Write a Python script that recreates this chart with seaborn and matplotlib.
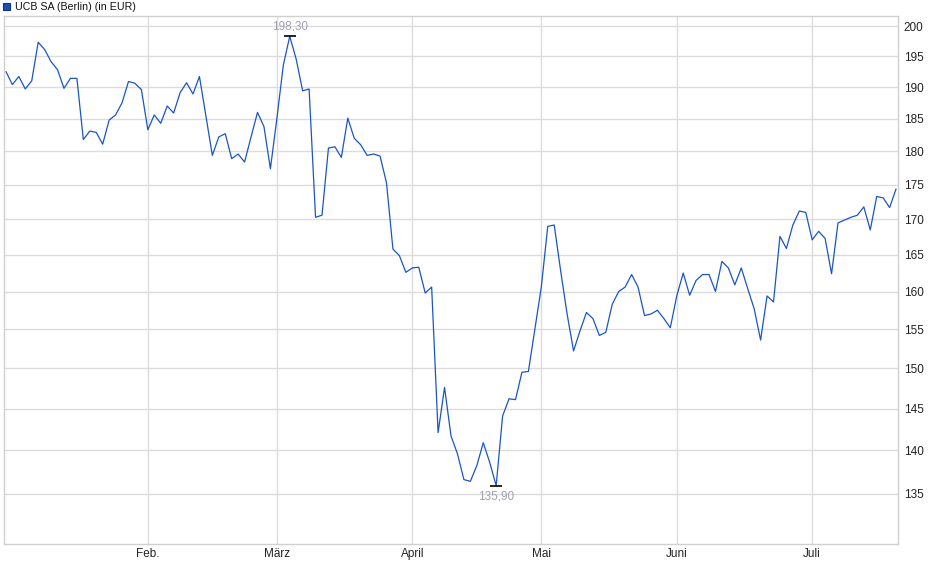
import seaborn as sns
import matplotlib.pyplot as plt
import matplotlib.patches as mpatches
import numpy as np
import pandas as pd

title = 'UCB SA (Berlin) (in EUR)'
month_labels = ['Feb.', 'März', 'April', 'Mai', 'Juni', 'Juli']
# index of the first trading day of each month
month_start = [22, 42, 63, 83, 104, 125]
y_ticks = [135, 140, 145, 150, 155, 160, 165, 170, 175, 180, 185, 190, 195, 200]

# daily closing prices, 2 Jan - 18 Jul
price = [192.5, 190.4, 191.7, 189.7, 191.0, 197.3, 196.1, 194.1, 192.8, 189.8,
         191.4, 191.4, 181.8, 183.1, 182.9, 181.1, 184.8, 185.6, 187.5, 190.9,
         190.6, 189.6, 183.3, 185.6, 184.3, 187.0, 185.9, 189.1, 190.7, 188.9,
         191.7, 185.4, 179.4, 182.2, 182.7, 178.9, 179.6, 178.4, 182.2, 186.0,
         183.8, 177.4, 185.0, 193.5, 198.3, 194.5, 189.4, 189.7, 170.3, 170.6,
         180.5, 180.7, 179.1, 185.1, 182.0, 181.0, 179.4, 179.6, 179.3, 175.3,
         165.8, 164.9, 162.6, 163.2, 163.3, 159.8, 160.6, 142.1, 147.6, 141.7,
         139.6, 136.6, 136.4, 138.2, 140.9, 138.6, 135.9, 144.1, 146.2, 146.1,
         149.5, 149.6, 155.0, 160.6, 169.0, 169.2, 162.8, 157.0, 152.2, 154.8,
         157.2, 156.4, 154.2, 154.6, 158.3, 160.0, 160.6, 162.3, 160.6, 156.8,
         157.0, 157.5, 156.4, 155.2, 159.4, 162.5, 159.5, 161.5, 162.3, 162.3,
         160.0, 164.1, 163.2, 160.9, 163.2, 160.4, 157.7, 153.6, 159.4, 158.6,
         167.6, 165.9, 169.2, 171.2, 171.0, 167.1, 168.3, 167.3, 162.4, 169.5,
         169.9, 170.3, 170.6, 171.8, 168.5, 173.3, 173.1, 171.7, 174.4]

df = pd.DataFrame({'day': np.arange(len(price)), 'price': price})

sns.set_style('white')
plt.rcParams['font.family'] = ['Liberation Sans', 'DejaVu Sans']

W, H = 940, 579
fig = plt.figure(figsize=(W / 100, H / 100), dpi=100)
ax = fig.add_axes([4 / W, 35 / H, 894 / W, 528 / H])

sns.lineplot(data=df, x='day', y='price', color='#1a55c4', linewidth=0.9, ax=ax)

ax.set_yscale('log')
ax.set_ylim(129.4, 201.7)
ax.set_xlim(-0.3, 138.3)
ax.set_yticks(y_ticks, [str(v) for v in y_ticks])
ax.minorticks_off()
ax.set_xticks(month_start, month_labels)
ax.yaxis.tick_right()
ax.tick_params(axis='y', length=0, pad=4, labelsize=8.5, labelcolor='#222222')
ax.tick_params(axis='x', length=0, pad=3, labelsize=8.5, labelcolor='#222222')
ax.set_xlabel('')
ax.set_ylabel('')
ax.grid(True, color='#dcdcdc', linewidth=1)
for s in ax.spines.values():
    s.set_color('#d0d0d0')
    s.set_linewidth(1)

# high / low markers
hi = int(np.argmax(price))
lo = int(np.argmin(price))
ax.plot([hi, lo], [price[hi], price[lo]], ls='none', marker='_', color='black', ms=9, mew=1.2)
ax.annotate(f'{price[hi]:.2f}'.replace('.', ','), (hi, price[hi]), xytext=(0, 7),
            textcoords='offset points', ha='center', va='center', fontsize=8.5, color='#a0a0b0')
ax.annotate(f'{price[lo]:.2f}'.replace('.', ','), (lo, price[lo]), xytext=(0, -8),
            textcoords='offset points', ha='center', va='center', fontsize=8.5, color='#a0a0b0')

# title with small square
fig.patches.append(mpatches.Rectangle((3 / W, 1 - 10 / H), 7 / W, 7 / H, transform=fig.transFigure,
                                      facecolor='#1d4fb8', edgecolor='#13337a', linewidth=0.8))
fig.text(15 / W, 1 - 6.5 / H, title, va='center', ha='left', fontsize=7.7, color='#111111')

fig.savefig('out.png', dpi=100)
